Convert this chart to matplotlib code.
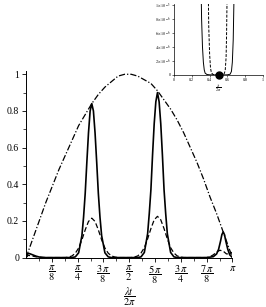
import numpy as np
import matplotlib
matplotlib.use("Agg")
import matplotlib.pyplot as plt

plt.rcParams['font.family'] = ['Liberation Serif', 'DejaVu Serif']
plt.rcParams['mathtext.fontset'] = 'stix'

# curva solida (lambda t em rad)
t_solid = [0.0, 0.02, 0.05, 0.1, 0.15, 0.2, 0.3, 0.7,
           0.75, 0.8, 0.85, 0.875, 0.9, 0.925, 0.95, 0.975, 1.0,
           1.025, 1.05, 1.075, 1.1, 1.125, 1.15, 1.2, 1.25, 1.3,
           1.7, 1.75, 1.8, 1.85, 1.875, 1.9, 1.925, 1.95, 1.975, 2.0,
           2.025, 2.05, 2.075, 2.1, 2.125, 2.15, 2.2, 2.25, 2.3,
           2.75, 2.85, 2.9, 2.93, 2.96, 2.98, 3.0, 3.02, 3.04, 3.07, 3.1, 3.1416]
v_solid = [0.0, 0.02, 0.022, 0.015, 0.008, 0.003, 0.0, 0.0,
           0.004, 0.026, 0.12, 0.22, 0.35, 0.52, 0.68, 0.80, 0.84,
           0.80, 0.68, 0.52, 0.35, 0.22, 0.12, 0.026, 0.004, 0.0,
           0.0, 0.004, 0.028, 0.13, 0.24, 0.37, 0.56, 0.73, 0.85, 0.90,
           0.85, 0.73, 0.56, 0.37, 0.24, 0.13, 0.028, 0.004, 0.0,
           0.0, 0.005, 0.02, 0.045, 0.09, 0.125, 0.14, 0.125, 0.09, 0.045, 0.015, 0.0]

# curva tracejada
t_dash = [0.0, 0.03, 0.08, 0.15, 0.25, 0.6,
          0.65, 0.7, 0.75, 0.8, 0.85, 0.9, 0.95, 1.0,
          1.05, 1.1, 1.15, 1.2, 1.25, 1.3, 1.35, 1.4,
          1.6, 1.65, 1.7, 1.75, 1.8, 1.85, 1.9, 1.95, 2.0,
          2.05, 2.1, 2.15, 2.2, 2.25, 2.3, 2.35, 2.4,
          2.75, 2.8, 2.85, 2.9, 2.95, 3.0, 3.05, 3.1, 3.1416]
v_dash = [0.0, 0.012, 0.01, 0.004, 0.0, 0.0,
          0.003, 0.009, 0.024, 0.052, 0.097, 0.151, 0.197, 0.215,
          0.197, 0.151, 0.097, 0.052, 0.024, 0.009, 0.003, 0.0,
          0.0, 0.003, 0.009, 0.025, 0.054, 0.102, 0.158, 0.206, 0.225,
          0.206, 0.158, 0.102, 0.054, 0.025, 0.009, 0.003, 0.0,
          0.0, 0.005, 0.015, 0.03, 0.04, 0.035, 0.02, 0.02, 0.03]

# envelope (traco-ponto)
t_env = [0.0, 0.1, 0.2, 0.3, 0.4, 0.5, 0.6, 0.7, 0.8, 0.9, 1.0, 1.1, 1.2, 1.3,
         1.4, 1.5, 1.6, 1.7, 1.8, 1.9, 2.0, 2.1, 2.2, 2.3, 2.4, 2.5, 2.6, 2.7,
         2.8, 2.9, 3.0, 3.1, 3.1416]
v_env = [0.0, 0.10, 0.20, 0.30, 0.39, 0.48, 0.56, 0.64, 0.72, 0.78, 0.84, 0.89,
         0.93, 0.96, 0.99, 1.0, 1.0, 0.99, 0.97, 0.95, 0.91, 0.86, 0.81, 0.75,
         0.68, 0.60, 0.52, 0.43, 0.33, 0.24, 0.14, 0.04, 0.0]

xtick_labels = [r'$\dfrac{\pi}{8}$', r'$\dfrac{\pi}{4}$', r'$\dfrac{3\,\pi}{8}$',
                r'$\dfrac{\pi}{2}$', r'$\dfrac{5\,\pi}{8}$', r'$\dfrac{3\,\pi}{4}$',
                r'$\dfrac{7\,\pi}{8}$', r'$\pi$']
ytick_labels = ['0', '0.2', '0.4', '0.6', '0.8', '1']

# detalhe (inset)
x_in_solid = [0.305, 0.31, 0.32, 0.33, 0.34, 0.35, 0.37, 0.40, 0.45, 0.5,
              0.55, 0.60, 0.63, 0.645, 0.655, 0.665, 0.675]
v_in_solid = [1.2e-5, 8e-6, 4e-6, 1.8e-6, 7e-7, 2.5e-7, 6e-8, 1e-8, 0.0, 0.0,
              0.0, 1e-8, 1e-7, 5e-7, 1.8e-6, 5e-6, 1.2e-5]
x_in_dash = [0.385, 0.39, 0.40, 0.41, 0.42, 0.44, 0.47, 0.5, 0.53, 0.56,
             0.575, 0.585, 0.59, 0.597]
v_in_dash = [1.2e-5, 7e-6, 3e-6, 1e-6, 3e-7, 5e-8, 0.0, 0.0, 0.0, 5e-8,
             6e-7, 2.5e-6, 5.5e-6, 1.2e-5]

fig = plt.figure(figsize=(2.66, 3.07), dpi=100)
ax = fig.add_axes([0.098, 0.161, 0.776, 0.609])
ax.plot(t_solid, v_solid, color='black', lw=1.2)
ax.plot(t_dash, v_dash, color='black', lw=0.9, dashes=(4, 2))
ax.plot(t_env, v_env, color='black', lw=0.9, dashes=(5, 1.6, 1, 1.6))
ax.set_xlim(0, np.pi)
ax.set_ylim(0, 1.02)
ax.spines['top'].set_visible(False)
ax.spines['right'].set_visible(False)
ax.spines['left'].set_linewidth(0.7)
ax.spines['bottom'].set_linewidth(0.7)
ax.set_xticks(np.pi * np.arange(1, 9) / 8)
ax.set_xticklabels(xtick_labels, fontsize=7.5)
ax.set_xticks(np.pi * np.arange(1, 16, 2) / 16, minor=True)
ax.set_yticks([0, 0.2, 0.4, 0.6, 0.8, 1.0])
ax.set_yticklabels(ytick_labels, fontsize=7)
ax.set_yticks(np.arange(0.1, 1.0, 0.2), minor=True)
ax.tick_params(which='major', length=3, width=0.6, pad=2)
ax.tick_params(axis='x', which='major', pad=1.5)
ax.tick_params(which='minor', length=2, width=0.5)
ax.text(0.5, -0.15, r'$\dfrac{\lambda t}{2\pi}$', fontsize=7.5,
        transform=ax.transAxes, ha='center', va='top')

axi = fig.add_axes([0.654, 0.756, 0.335, 0.231])
axi.plot(x_in_solid, v_in_solid, color='black', lw=0.7)
axi.plot(x_in_dash, v_in_dash, color='black', lw=0.7, dashes=(3, 1.5))
axi.plot([0.5], [0.0], 'o', color='black', ms=5, clip_on=False, zorder=5)
axi.set_xlim(0, 1)
axi.set_ylim(0, 1.01e-5)
axi.spines['top'].set_visible(False)
axi.spines['right'].set_visible(False)
axi.spines['left'].set_linewidth(0.5)
axi.spines['bottom'].set_linewidth(0.5)
axi.set_xticks([0, 0.2, 0.4, 0.6, 0.8, 1])
axi.set_xticklabels(['0', '0.2', '0.4', '0.6', '0.8', '1'], fontsize=3)
axi.set_yticks([0, 2e-6, 4e-6, 6e-6, 8e-6, 1e-5])
axi.set_yticklabels(['0', r'$2\times10^{-6}$', r'$4\times10^{-6}$', r'$6\times10^{-6}$',
                     r'$8\times10^{-6}$', r'$1\times10^{-5}$'], fontsize=3)
axi.tick_params(length=1.5, width=0.4, pad=1)
axi.set_xlabel(r'$\dfrac{\lambda t}{2\pi}$', fontsize=3, labelpad=0)

fig.savefig('out.png', dpi=100)
